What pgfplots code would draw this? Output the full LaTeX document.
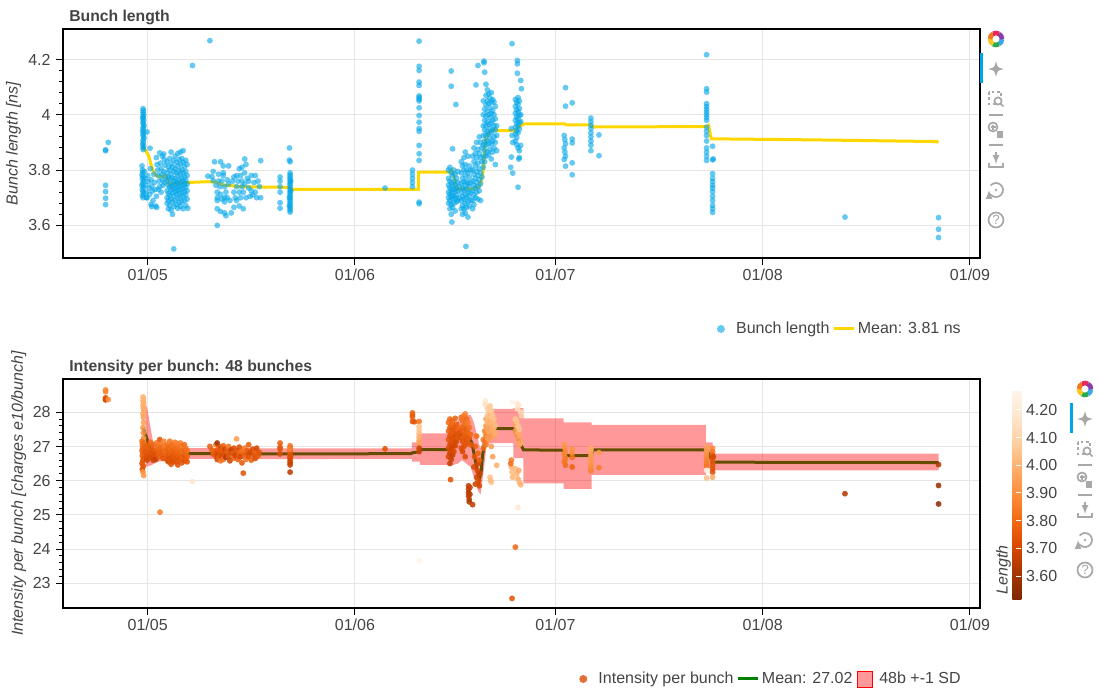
\documentclass[border=0pt]{standalone}
\usepackage{fontspec}
\setmainfont{Liberation Sans}
\usepackage{pgfplots}
\pgfplotsset{compat=1.18}
\definecolor{txt}{HTML}{444444}
\definecolor{gridc}{HTML}{E5E5E5}
\definecolor{blue1}{RGB}{0,165,232}
\definecolor{gold1}{HTML}{FFD700}
\definecolor{green1}{HTML}{008000}
\definecolor{orleg}{RGB}{226,112,55}
\definecolor{icon}{HTML}{A8A8A8}
\newcommand\fs{\fontsize{12bp}{14bp}\selectfont}
\newcommand\fst{\fontsize{11.8bp}{14bp}\selectfont}
\pgfplotsset{
 bk/.style={
  scale only axis, width=687.75bp, height=171.75bp,
  xmin=-12.67, xmax=124.5,
  xtick={0,31,61,92,123}, xticklabels={01/05,01/06,01/07,01/08,01/09},
  grid=major, major grid style={gridc, line width=0.75bp},
  axis line style={black, line width=1bp},
  tick align=outside, tick pos=left,
  major tick length=5bp, minor tick length=3bp,
  every tick/.style={black, line width=0.75bp},
  /pgf/number format/assume math mode=true,
  ticklabel style={font=\fs, text=txt},
  xticklabel style={yshift=0bp},
  yticklabel style={xshift=-0.8bp},
  label style={font=\fs\itshape, text=txt},
  every axis title/.style={font=\fst\bfseries, text=txt, at={(axis description cs:0,1)}, anchor=base west, yshift=5.8bp, xshift=1.2bp},
  legend style={draw=none, fill=none, font=\fs, text=txt, legend columns=-1,
     /tikz/every even column/.append style={column sep=0bp}},
  legend cell align=left,
  legend image code/.code={\draw[mark repeat=2,mark phase=2,#1] plot coordinates {(0bp,0bp) (7.5bp,0bp) (15bp,0bp)};},
  dotlegend/.style={legend image code/.code={\path[draw=none,fill=none] (0bp,0bp) -- (15bp,0bp); \draw[##1] plot coordinates {(5.6bp,0bp)};}},
 }
}
\newcommand\toolbar[2]{%
 \begin{scope}[shift={(#1,#2)}]
  \foreach \a/\c in {0/{rgb,255:red,60;green,170;blue,230},60/{rgb,255:red,40;green,170;blue,80},120/{rgb,255:red,250;green,200;blue,30},180/{rgb,255:red,245;green,120;blue,30},240/{rgb,255:red,230;green,40;blue,90},300/{rgb,255:red,140;green,60;blue,170}}
   {\draw[line width=3.5, color=\c] (\a:6) arc[start angle=\a, end angle=\a+62, radius=6];}
  \begin{scope}[shift={(0,30)}, icon, line width=1.3]
   \draw[-latex] (0,0)--(0,-8); \draw[-latex] (0,0)--(0,8);
   \draw[-latex] (0,0)--(-8,0); \draw[-latex] (0,0)--(8,0);
  \end{scope}
  \begin{scope}[shift={(0,60)}, icon, line width=1.3]
   \draw[dash pattern=on 2 off 2] (-7,-7) rectangle (5,5);
   \draw[fill=white] (2,2) circle (3.6); \draw (4.5,4.5)--(7.5,7.5);
  \end{scope}
  \draw[icon, line width=0.8] (-7,76)--(7,76);
  \begin{scope}[shift={(0,91)}, icon, line width=1.3]
   \draw (-3,-3) circle (4.5); \draw (-5.5,-3)--(-0.5,-3); \draw (-3,-5.5)--(-3,-0.5);
   \fill (1,1) rectangle (7,8);
  \end{scope}
  \draw[icon, line width=0.8] (-7,106)--(7,106);
  \begin{scope}[shift={(0,121)}, icon, line width=1.3]
   \draw (-7,3)--(-7,7)--(7,7)--(7,3);
   \draw[-latex] (0,-8)--(0,4);
  \end{scope}
  \begin{scope}[shift={(0,151)}, icon, line width=1.3]
   \draw[-latex] (-140:7) arc[start angle=-140, end angle=180, radius=7];
   \fill (0,0) circle (1.3);
  \end{scope}
  \begin{scope}[shift={(0,181)}, icon, line width=1.3]
   \draw (0,0) circle (7.5);
   \node[text=icon, font=\fontsize{10bp}{11bp}\selectfont, inner sep=0] at (0,0.3) {?};
  \end{scope}
 \end{scope}}
\begin{document}
\begin{tikzpicture}
\useasboundingbox (0bp,0bp) rectangle (825bp,-525bp);
% ---------------- top: bunch length
\begin{axis}[bk, at={(47.25bp,-193.5bp)}, anchor=south west,
  ymin=3.482, ymax=4.31, ytick={3.6,3.8,4,4.2}, minor y tick num=4,
  title={Bunch length}, ylabel={Bunch length [ns]},
  y label style={at={(axis description cs:-0.054,0.5)}, anchor=center},
  legend style={at={(axis description cs:0.9865,-0.31)}, anchor=east},
]
\addplot[only marks, mark=*, mark size=2.2bp, blue1, mark options={draw=blue1, fill=blue1, draw opacity=0, fill opacity=0.6}, forget plot] coordinates {
(-6.3,3.870) (-6.3,3.873) (-6.3,3.745) (-6.3,3.722) (-6.3,3.698) (-6.3,3.675) (-5.9,3.900)
(-0.7,4.022) (-0.65,4.015) (-0.7,4.008) (-0.6,4.001) (-0.7,3.995) (-0.65,3.990) (-0.75,3.985) (-0.6,3.980)
(-0.7,3.972) (-0.65,3.966) (-0.55,3.960) (-0.7,3.953) (-0.65,3.947) (-0.75,3.940) (-0.6,3.934) (-0.7,3.928)
(-0.65,3.921) (-0.55,3.915) (-0.7,3.908) (-0.65,3.900) (-0.75,3.893) (-0.6,3.887) (-0.7,3.880) (-0.65,3.874)
(-0.1,3.938) (0.35,3.879)
(-0.85,3.815) (-0.8,3.800) (-0.75,3.790) (-0.85,3.782) (-0.7,3.775) (-0.8,3.768) (-0.6,3.760) (-0.75,3.752)
(-0.85,3.745) (-0.65,3.738) (-0.8,3.730) (-0.7,3.722) (-0.6,3.715) (-0.8,3.708) (-0.7,3.700) (-0.5,3.795)
(-0.4,3.770) (-0.3,3.745) (-0.2,3.720) (-0.1,3.700) (0.0,3.780) (0.1,3.758) (0.2,3.735) (0.3,3.712)
(0.4,3.805) (0.5,3.765) (0.6,3.742) (0.7,3.724) (0.8,3.690) (0.9,3.785) (1.0,3.755) (1.1,3.730)
(1.2,3.670) (1.35,3.665) (0.5,3.676) (0.6,3.668) (-0.2,3.700)
(1.3,3.845) (1.4,3.820) (1.5,3.800) (1.6,3.780) (1.7,3.760) (1.8,3.740) (1.9,3.825) (2.0,3.805)
(2.1,3.785) (2.2,3.765) (2.3,3.745) (2.4,3.858) (2.5,3.838) (2.6,3.818) (2.2,3.850) (1.8,3.862)
(1.6,3.730) (2.0,3.720) (2.4,3.795) (2.6,3.775) (1.3,3.705) (2.5,3.755)
(2.9,3.830) (2.9,3.790) (2.9,3.760) (2.9,3.725) (2.9,3.700) (2.9,3.680)
(3.1,3.810) (3.1,3.775) (3.1,3.745) (3.1,3.715) (3.1,3.690) (3.1,3.660)
(3.3,3.842) (3.3,3.800) (3.3,3.768) (3.3,3.738) (3.3,3.708) (3.3,3.672)
(3.5,3.865) (3.5,3.822) (3.5,3.785) (3.5,3.752) (3.5,3.728) (3.5,3.695) (3.5,3.655)
(3.7,3.812) (3.7,3.772) (3.7,3.742) (3.7,3.718) (3.7,3.685) (3.7,3.640)
(3.9,3.835) (3.9,3.795) (3.9,3.760) (3.9,3.733) (3.9,3.705) (3.9,3.668) (3.9,3.515)
(4.1,3.850) (4.1,3.805) (4.1,3.770) (4.1,3.748) (4.1,3.722) (4.1,3.690)
(4.3,3.828) (4.3,3.790) (4.3,3.758) (4.3,3.735) (4.3,3.712) (4.3,3.675)
(4.5,3.860) (4.5,3.815) (4.5,3.780) (4.5,3.750) (4.5,3.728) (4.5,3.698) (4.5,3.662)
(4.7,3.838) (4.7,3.798) (4.7,3.765) (4.7,3.740) (4.7,3.715) (4.7,3.682)
(4.9,3.865) (4.9,3.822) (4.9,3.785) (4.9,3.755) (4.9,3.730) (4.9,3.700) (4.9,3.668)
(5.1,3.842) (5.1,3.802) (5.1,3.770) (5.1,3.745) (5.1,3.718) (5.1,3.685)
(5.3,3.870) (5.3,3.828) (5.3,3.790) (5.3,3.760) (5.3,3.735) (5.3,3.705) (5.3,3.660)
(5.5,3.812) (5.5,3.775) (5.5,3.748) (5.5,3.722) (5.5,3.690)
(5.7,3.835) (5.7,3.795) (5.7,3.762) (5.7,3.738) (5.7,3.710) (5.7,3.672)
(5.9,3.820) (5.9,3.780) (5.9,3.750) (5.9,3.725) (5.9,3.695) (6.0,3.662)
(6.7,4.178) (9.3,4.268)
(9.0,3.778) (9.6,3.776) (9.8,3.795) (9.8,3.762) (10.0,3.830) (10.2,3.745) (10.4,3.720) (10.4,3.700)
(10.4,3.690) (10.4,3.660) (10.4,3.600) (10.6,3.785) (10.6,3.760) (10.8,3.740) (10.9,3.830) (10.9,3.712)
(10.9,3.650) (11.1,3.695) (11.1,3.760) (11.3,3.790) (11.3,3.815) (11.3,3.780) (11.5,3.740) (11.5,3.700)
(11.5,3.685) (11.5,3.645) (11.7,3.635) (11.7,3.720) (11.9,3.765) (11.9,3.700) (12.1,3.815) (12.1,3.750)
(12.3,3.690) (12.5,3.645) (12.7,3.760) (12.9,3.775) (12.9,3.720) (12.9,3.665) (13.1,3.700) (13.3,3.780)
(13.3,3.740) (13.3,3.690) (13.5,3.760) (13.7,3.805) (13.7,3.720) (13.7,3.670) (13.9,3.780) (13.9,3.700)
(14.1,3.810) (14.1,3.760) (14.1,3.740) (14.3,3.660) (14.3,3.720) (14.5,3.840) (14.5,3.790) (14.5,3.750)
(14.7,3.820) (14.7,3.700) (14.9,3.770) (15.1,3.760) (15.1,3.735) (15.3,3.705) (15.5,3.780) (15.5,3.725)
(15.7,3.710) (15.9,3.755) (16.1,3.780) (16.1,3.720) (16.3,3.700) (16.5,3.760) (16.7,3.740) (16.9,3.834)
(16.9,3.700)
(19.8,3.775) (19.8,3.760) (19.8,3.740) (19.8,3.720) (19.8,3.682) (19.8,3.662)
(21.2,3.880) (21.2,3.836) (21.3,3.830) (21.3,3.790) (21.3,3.782) (21.3,3.775) (21.3,3.768) (21.3,3.760)
(21.3,3.752) (21.3,3.745) (21.3,3.738) (21.3,3.730) (21.3,3.722) (21.3,3.715) (21.3,3.708) (21.3,3.700)
(21.3,3.692) (21.3,3.685) (21.3,3.678) (21.3,3.670) (21.3,3.662) (21.3,3.655) (21.3,3.648) (21.4,3.725)
(21.4,3.760) (21.2,3.700) (21.2,3.670)
(35.5,3.735)
(39.6,3.800) (39.6,3.785) (39.6,3.770) (39.6,3.755) (39.6,3.740)
(40.6,4.266) (40.6,4.175) (40.6,4.160) (40.6,4.118) (40.6,4.106) (40.6,4.068) (40.6,4.062) (40.6,4.056)
(40.6,4.050) (40.6,4.025) (40.6,3.997) (40.6,3.973) (40.6,3.950) (40.6,3.940) (40.6,3.889) (40.6,3.859)
(40.6,3.835) (40.6,3.684) (40.6,3.678)
(45.0,3.800) (45.0,3.770) (45.0,3.745) (45.0,3.720) (45.0,3.700) (45.0,3.680)
(45.2,3.810) (45.2,3.760) (45.2,3.735) (45.2,3.712) (45.2,3.690) (45.2,3.660)
(45.4,3.790) (45.4,3.752) (45.4,3.728) (45.4,3.705) (45.4,3.675) (45.4,3.640) (45.4,4.158) (45.4,4.103)
(45.6,3.877) (45.6,3.780) (45.6,3.742) (45.6,3.718) (45.6,3.695) (45.6,3.665) (45.5,3.612)
(45.8,3.800) (45.8,3.760) (45.8,3.730) (45.8,3.705) (45.8,3.680)
(46.0,3.785) (46.0,3.748) (46.0,3.722) (46.0,3.698) (46.0,3.652) (46.1,4.037)
(46.2,3.770) (46.2,3.735) (46.2,3.708) (46.2,3.685) (46.4,3.795) (46.4,3.755) (46.4,3.725) (46.4,3.690)
(46.6,3.740) (46.6,3.700)
(46.9,3.830) (46.9,3.790) (46.9,3.752) (46.9,3.720) (46.9,3.690) (46.9,3.660)
(47.1,3.815) (47.1,3.770) (47.1,3.735) (47.1,3.705) (47.1,3.672) (47.1,3.640)
(47.3,3.845) (47.3,3.800) (47.3,3.758) (47.3,3.728) (47.3,3.695) (47.3,3.660)
(47.5,3.865) (47.5,3.820) (47.5,3.780) (47.5,3.745) (47.5,3.712) (47.5,3.680) (47.5,3.645) (47.6,3.524)
(47.7,3.800) (47.7,3.760) (47.7,3.730) (47.7,3.700) (47.7,3.665)
(47.9,3.850) (47.9,3.790) (47.9,3.750) (47.9,3.718) (47.9,3.685) (47.9,3.630)
(48.1,3.815) (48.1,3.775) (48.1,3.740) (48.1,3.705) (48.1,3.670)
(48.3,3.800) (48.3,3.755) (48.3,3.720) (48.3,3.690)
(48.6,3.850) (48.6,3.800) (48.6,3.760) (48.6,3.725) (48.6,3.690) (48.6,3.660)
(48.8,3.880) (48.8,3.830) (48.8,3.785) (48.8,3.745) (48.8,3.710) (48.8,3.675)
(49.0,3.860) (49.0,3.815) (49.0,3.770) (49.0,3.735) (49.0,3.700) (49.1,4.108)
(49.2,3.900) (49.2,3.845) (49.2,3.795) (49.2,3.755) (49.2,3.720) (49.4,4.178)
(49.4,3.875) (49.4,3.825) (49.4,3.780) (49.4,3.740) (49.4,3.695)
(49.6,3.920) (49.6,3.860) (49.6,3.805) (49.6,3.765) (49.6,3.725)
(49.8,3.900) (49.8,3.845) (49.8,3.790) (49.8,3.750) (49.8,3.690)
(50.0,3.880) (50.0,3.830) (50.0,3.775)
(50.2,4.050) (50.2,4.000) (50.2,3.960) (50.2,3.925) (50.2,3.890) (50.2,3.850) (50.2,3.810)
(50.3,4.194) (50.3,4.188) (50.4,4.154) (50.4,4.020) (50.4,3.980) (50.4,3.945) (50.4,3.905) (50.4,3.870) (50.4,3.830)
(50.6,4.110) (50.6,4.070) (50.6,4.035) (50.6,3.995) (50.6,3.960) (50.6,3.925) (50.6,3.890) (50.6,3.850)
(50.8,4.090) (50.8,4.050) (50.8,4.012) (50.8,3.975) (50.8,3.940) (50.8,3.905) (50.8,3.865)
(51.0,4.075) (51.0,4.040) (51.0,4.000) (51.0,3.965) (51.0,3.930) (51.0,3.895) (51.0,3.855)
(51.2,4.060) (51.2,4.025) (51.2,3.990) (51.2,3.950) (51.2,3.915) (51.2,3.875)
(51.4,4.080) (51.4,4.045) (51.4,4.005) (51.4,3.970) (51.4,3.935) (51.4,3.895) (51.4,3.840)
(51.6,4.055) (51.6,4.015) (51.6,3.980) (51.6,3.945) (51.6,3.905) (51.6,3.865)
(51.8,4.046) (51.8,4.000) (51.8,3.960) (51.8,3.920) (51.8,3.880)
(52.0,4.030) (52.0,3.985) (52.0,3.945) (52.0,3.900) (52.0,3.820)
(52.2,3.960) (52.2,3.925) (52.2,3.870)
(54.5,4.257) (55.3,4.196) (55.3,4.184) (55.3,4.150) (55.8,4.124) (55.9,4.094)
(55.0,4.055) (55.0,4.030) (55.0,4.005) (55.0,3.980) (55.0,3.955) (55.0,3.930) (55.0,3.905)
(55.2,4.045) (55.2,4.018) (55.2,3.992) (55.2,3.968) (55.2,3.942) (55.2,3.918) (55.2,3.892)
(55.4,4.062) (55.4,4.038) (55.4,4.010) (55.4,3.985) (55.4,3.960) (55.4,3.935) (55.4,3.880)
(55.6,4.050) (55.6,4.022) (55.6,3.998) (55.6,3.972) (55.6,3.948) (55.6,3.870)
(55.8,4.000) (55.8,3.975) (55.8,3.889)
(54.4,3.950) (54.5,3.925) (54.6,3.900) (54.4,3.847) (54.3,3.810) (54.6,3.789) (55.4,3.738) (55.5,3.840) (55.6,3.845)
(62.5,4.098) (62.5,4.031) (63.5,4.043) (62.3,3.925) (62.4,3.910) (62.5,3.895) (62.3,3.880) (62.4,3.865)
(62.5,3.850) (62.3,3.838) (62.5,3.814) (63.5,3.912) (63.5,3.898) (63.5,3.826) (63.5,3.783)
(66.3,3.988) (66.3,3.975) (66.3,3.962) (66.3,3.950) (66.3,3.935) (66.3,3.920) (66.3,3.905) (66.3,3.890)
(66.3,3.870) (67.5,3.927) (67.5,3.852)
(83.6,4.217) (83.6,4.094) (83.6,4.082) (83.6,4.040) (83.6,4.030) (83.6,4.020) (83.6,4.010) (83.6,4.000)
(83.6,3.990) (83.6,3.980) (83.6,3.955) (83.6,3.940) (83.6,3.925) (83.6,3.905) (83.6,3.880) (83.6,3.865)
(83.6,3.850) (83.6,3.835)
(84.5,3.886) (84.5,3.837) (84.6,3.840) (84.5,3.787) (84.5,3.770) (84.5,3.758) (84.5,3.745) (84.5,3.735)
(84.5,3.722) (84.5,3.705) (84.5,3.690) (84.5,3.672) (84.5,3.660) (84.5,3.647)
(104.3,3.630) (118.3,3.628) (118.3,3.586) (118.3,3.556)
};
\addplot[gold1, line width=2.25bp, forget plot] coordinates {
(-0.65,3.886) (-0.3,3.87) (0.0,3.858) (0.2,3.847) (0.5,3.82) (0.94,3.79) (1.3,3.78) (1.8,3.775)
(2.3,3.778) (2.7,3.78) (3.0,3.765) (3.1,3.75) (4.0,3.751) (6.0,3.755) (9.0,3.758) (10.0,3.757)
(10.8,3.75) (11.6,3.745) (12.8,3.743) (13.5,3.74) (16.0,3.739) (20.0,3.738) (21.2,3.737) (21.6,3.73)
(40.5,3.73) (40.5,3.792) (45.3,3.793) (45.5,3.80) (45.8,3.78) (46.1,3.732) (46.5,3.73) (47.2,3.734)
(48.0,3.731) (49.0,3.735) (49.6,3.74) (49.9,3.76) (50.2,3.80) (50.4,3.87) (50.6,3.919) (51.2,3.94)
(51.95,3.946) (52.5,3.943) (54.9,3.942) (55.5,3.955) (56.3,3.967) (62.4,3.967) (62.6,3.963) (66.4,3.963)
(66.5,3.956) (83.6,3.957) (83.9,3.961) (84.1,3.935) (84.3,3.913) (100,3.909) (118.0,3.903) (118.3,3.900)
};
\addlegendimage{dotlegend, only marks, mark=*, mark size=3bp, blue1, mark options={draw=blue1, fill=blue1, draw opacity=0, fill opacity=0.6}}
\addlegendentry{Bunch length}
\addlegendimage{gold1, line width=2.25bp}
\addlegendentry{Mean: 3.81 ns}
\end{axis}
% ---------------- bottom: intensity
\begin{axis}[bk, at={(47.25bp,-456bp)}, anchor=south west,
  ymin=22.28, ymax=28.97, ytick={23,24,25,26,27,28}, minor y tick num=4,
  title={Intensity per bunch: 48 bunches}, ylabel={Intensity per bunch [charges e10/bunch]},
  y label style={at={(axis description cs:-0.0482,0.5)}, anchor=center},
  legend style={at={(axis description cs:0.9865,-0.31)}, anchor=east},
  colormap={ors}{rgb255=(127,39,4) rgb255=(166,54,3) rgb255=(217,72,1) rgb255=(241,105,19) rgb255=(253,141,60) rgb255=(253,174,107) rgb255=(253,208,162) rgb255=(254,230,206) rgb255=(255,245,235)},
  point meta min=3.517, point meta max=4.272,
  colorbar,
  colorbar style={
    at={(parent axis.north east)}, anchor=north west, xshift=15.75bp, yshift=-8.25bp,
    scale only axis, width=6.75bp, height=156.75bp,
    grid=none, xtick=\empty,
    ytick={3.6,3.7,3.8,3.9,4.0,4.1,4.2},
    /pgf/number format/assume math mode=true,
    yticklabel style={font=\fs, text=txt, /pgf/number format/.cd, fixed, fixed zerofill, precision=2},
    axis line style={draw=none},
    major tick length=3.75bp, tick align=inside, ytick pos=right, yticklabel pos=right,
    every tick/.style={white, line width=0.75bp},
    ylabel={Length},
    every axis y label/.style={at={(axis description cs:0,0)}, xshift=-3.6bp, rotate=90, anchor=base west, font=\fs\itshape, text=txt},
  },
]
\addplot[scatter, only marks, mark=*, mark size=2.2bp, point meta=explicit,
  scatter/use mapped color={draw=mapped color, fill=mapped color, draw opacity=0, fill opacity=0.88}, forget plot] coordinates {
(-6.3,28.65) [3.87] (-6.3,28.60) [3.87] (-6.3,28.42) [3.745] (-6.3,28.38) [3.72] (-6.3,28.36) [3.70] (-5.9,28.37) [3.90]
(-0.7,28.45) [4.02] (-0.65,28.40) [4.01] (-0.7,28.33) [4.00] (-0.6,28.27) [3.995] (-0.7,28.20) [3.99] (-0.65,28.12) [3.98]
(-0.55,28.05) [3.97] (-0.7,27.95) [3.96] (-0.65,27.85) [3.95] (-0.6,27.70) [3.94] (-0.7,27.55) [3.92] (-0.65,27.40) [3.90] (-0.6,27.25) [3.89]
(-0.85,27.15) [3.815] (-0.8,27.05) [3.80] (-0.75,26.95) [3.79] (-0.85,26.88) [3.782] (-0.7,26.80) [3.775] (-0.8,26.72) [3.768]
(-0.6,26.65) [3.76] (-0.75,26.58) [3.752] (-0.85,26.50) [3.745] (-0.65,26.42) [3.738] (-0.8,26.33) [3.73] (-0.7,26.25) [3.90]
(-0.6,26.15) [3.92] (-0.5,27.10) [3.795] (-0.4,26.98) [3.77] (-0.3,26.85) [3.745] (-0.2,26.70) [3.72] (-0.1,26.60) [3.70]
(0.0,27.00) [3.78] (0.1,26.90) [3.758] (0.2,26.78) [3.735] (0.3,26.68) [3.712] (0.4,27.12) [3.805] (0.5,26.95) [3.765]
(0.6,26.82) [3.742] (0.7,26.70) [3.724] (0.8,26.60) [3.69] (0.9,27.05) [3.785] (1.0,26.88) [3.755] (1.1,26.75) [3.73] (1.2,26.62) [3.67]
(1.3,27.10) [3.845] (1.4,27.00) [3.82] (1.5,26.90) [3.80] (1.6,26.80) [3.78] (1.7,26.70) [3.76] (1.8,27.20) [3.74]
(1.9,27.05) [3.825] (2.0,26.95) [3.805] (2.1,26.85) [3.785] (2.2,26.75) [3.765] (2.3,26.65) [3.745] (2.4,27.15) [3.858]
(2.5,27.00) [3.838] (2.6,26.88) [3.818] (1.84,25.08) [3.85]
(2.9,27.05) [3.83] (2.9,26.90) [3.79] (2.9,26.75) [3.76] (2.9,26.60) [3.725] (3.1,27.00) [3.81] (3.1,26.85) [3.775]
(3.1,26.70) [3.745] (3.1,26.55) [3.715] (3.3,27.15) [3.842] (3.3,26.95) [3.80] (3.3,26.80) [3.768] (3.3,26.65) [3.738]
(3.5,27.10) [3.865] (3.5,26.92) [3.822] (3.5,26.78) [3.785] (3.5,26.62) [3.752] (3.5,26.48) [3.728] (3.7,27.05) [3.812]
(3.7,26.88) [3.772] (3.7,26.72) [3.742] (3.7,26.58) [3.718] (3.9,27.00) [3.835] (3.9,26.85) [3.795] (3.9,26.70) [3.76]
(3.9,26.55) [3.733] (4.1,27.12) [3.85] (4.1,26.95) [3.805] (4.1,26.80) [3.77] (4.1,26.65) [3.748] (4.3,27.02) [3.828]
(4.3,26.88) [3.79] (4.3,26.72) [3.758] (4.3,26.55) [3.735] (4.5,27.08) [3.86] (4.5,26.92) [3.815] (4.5,26.78) [3.78]
(4.5,26.62) [3.75] (4.5,26.46) [3.728] (4.7,27.00) [3.838] (4.7,26.85) [3.798] (4.7,26.68) [3.765] (4.9,27.10) [3.865]
(4.9,26.95) [3.822] (4.9,26.80) [3.785] (4.9,26.62) [3.755] (5.1,27.02) [3.842] (5.1,26.86) [3.802] (5.1,26.70) [3.77]
(5.1,26.52) [3.745] (5.3,26.98) [3.87] (5.3,26.82) [3.828] (5.3,26.66) [3.79] (5.5,27.05) [3.812] (5.5,26.90) [3.775]
(5.5,26.74) [3.748] (5.5,26.58) [3.722] (5.7,26.95) [3.835] (5.7,26.80) [3.795] (5.7,26.62) [3.762] (5.9,26.88) [3.82]
(5.9,26.72) [3.78] (5.9,26.55) [3.75] (6.7,25.97) [4.178]
(9.3,27.00) [3.778] (9.6,26.90) [3.776] (9.8,26.85) [3.795] (9.8,26.78) [3.762] (10.2,27.05) [3.83] (10.2,26.72) [3.745]
(10.4,27.10) [3.60] (10.4,26.88) [3.72] (10.4,26.75) [3.70] (10.4,26.62) [3.69] (10.6,26.95) [3.785] (10.6,26.68) [3.76]
(10.8,26.82) [3.74] (10.9,26.58) [3.83] (10.9,26.98) [3.712] (11.1,26.70) [3.695] (11.1,26.88) [3.76] (11.3,27.02) [3.79]
(11.3,26.62) [3.815] (11.5,26.78) [3.74] (11.5,26.92) [3.70] (11.7,26.68) [3.635] (11.9,26.85) [3.765] (12.1,27.00) [3.815]
(12.1,26.72) [3.75] (12.3,26.58) [3.69] (12.5,26.90) [3.645] (12.7,26.80) [3.76] (12.9,26.66) [3.775] (12.9,26.95) [3.72]
(13.1,26.74) [3.70] (13.3,27.22) [3.94] (13.3,26.88) [3.74] (13.5,26.62) [3.76] (13.7,26.78) [3.805] (13.7,26.98) [3.72]
(13.9,26.70) [3.70] (14.1,26.86) [3.81] (14.1,26.52) [3.76] (14.3,26.22) [3.74] (14.5,26.95) [3.84] (14.5,26.75) [3.79]
(14.7,26.62) [3.82] (14.9,26.88) [3.77] (15.1,27.05) [3.76] (15.1,26.70) [3.735] (15.3,26.82) [3.705] (15.5,26.60) [3.78]
(15.7,26.92) [3.71] (15.9,26.75) [3.755] (16.1,26.85) [3.78] (16.1,26.65) [3.72] (16.3,26.95) [3.70] (16.5,26.72) [3.76]
(16.7,26.82) [3.74]
(19.8,27.10) [3.775] (19.8,26.98) [3.76] (19.8,26.92) [3.74] (19.8,26.78) [3.72]
(21.3,27.02) [3.83] (21.3,26.95) [3.79] (21.3,26.88) [3.775] (21.3,26.82) [3.76] (21.3,26.76) [3.745] (21.3,26.70) [3.73]
(21.3,26.65) [3.715] (21.3,26.58) [3.70] (21.3,26.52) [3.685] (21.3,26.46) [3.67] (21.3,26.25) [3.655] (21.2,26.92) [3.88] (21.4,26.72) [3.725]
(35.5,26.93) [3.735]
(39.6,27.98) [3.80] (39.6,27.92) [3.785] (39.6,27.87) [3.77] (39.6,27.73) [3.755] (39.9,27.72) [3.74]
(40.6,27.73) [3.835] (40.6,27.58) [4.05] (40.6,27.48) [4.06] (40.6,27.38) [4.025] (40.6,27.28) [3.997] (40.6,27.18) [3.973]
(40.6,27.10) [3.95] (40.6,23.67) [4.266] (40.6,26.95) [3.684] (40.6,26.85) [3.678]
(45.0,27.70) [3.80] (45.0,27.45) [3.77] (45.0,27.20) [3.745] (45.0,26.95) [3.72] (45.0,26.70) [3.70] (45.2,27.80) [3.81]
(45.2,27.55) [3.76] (45.2,27.30) [3.735] (45.2,27.05) [3.712] (45.2,26.80) [3.69] (45.2,26.50) [3.66] (45.3,26.03) [3.75]
(45.4,27.62) [3.79] (45.4,27.38) [3.752] (45.4,27.12) [3.728] (45.4,26.88) [3.705] (45.4,26.62) [3.675] (45.6,27.75) [3.78]
(45.6,27.50) [3.742] (45.6,27.25) [3.718] (45.6,27.00) [3.695] (45.6,26.75) [3.665] (45.8,27.60) [3.80] (45.8,27.35) [3.76]
(45.8,27.10) [3.73] (45.8,26.85) [3.705] (46.0,27.82) [3.785] (46.0,27.55) [3.748] (46.0,27.30) [3.722] (46.0,27.02) [3.698]
(46.2,27.65) [3.77] (46.2,27.40) [3.735] (46.2,27.15) [3.708] (46.4,27.50) [3.795] (46.4,27.25) [3.755] (46.6,27.40) [3.74]
(46.9,27.85) [3.83] (46.9,27.55) [3.79] (46.9,27.25) [3.752] (46.9,26.95) [3.72] (47.1,27.75) [3.815] (47.1,27.45) [3.77]
(47.1,27.15) [3.735] (47.1,26.85) [3.705] (47.3,27.90) [3.845] (47.3,27.60) [3.80] (47.3,27.30) [3.758] (47.3,27.00) [3.728]
(47.5,27.95) [3.865] (47.5,27.65) [3.82] (47.5,27.35) [3.78] (47.5,27.05) [3.745] (47.5,26.70) [3.712] (47.7,27.80) [3.80]
(47.7,27.50) [3.76] (47.7,27.20) [3.73] (47.9,27.70) [3.85] (47.9,27.40) [3.79] (47.9,27.10) [3.75] (48.1,27.55) [3.815]
(48.1,27.25) [3.775] (48.3,27.35) [3.80] (48.3,27.05) [3.755]
(48.0,25.85) [3.66] (48.0,25.75) [3.65] (48.0,25.65) [3.645] (48.0,25.55) [3.64] (48.1,25.45) [3.655] (48.1,25.38) [3.63]
(48.2,25.80) [3.67] (48.2,25.60) [3.65] (48.6,25.30) [3.66] (49.0,25.90) [3.69] (49.2,26.10) [3.70] (49.3,26.30) [3.72]
(49.4,26.50) [3.695] (49.5,26.00) [3.725] (49.6,25.85) [3.705] (49.7,26.20) [3.69] (48.8,26.40) [3.71] (48.9,26.70) [3.745]
(49.0,27.00) [3.77] (49.2,27.30) [3.80] (49.4,26.80) [3.78] (49.6,26.60) [3.76]
(50.2,27.20) [3.85] (50.2,26.95) [3.81] (50.4,27.45) [3.87] (50.4,27.15) [3.83] (50.5,28.33) [4.194] (50.5,28.22) [4.154]
(50.6,27.80) [3.96] (50.6,27.60) [3.925] (50.6,27.35) [3.89] (50.6,27.05) [3.85] (50.8,28.10) [4.09] (50.8,27.90) [4.05]
(50.8,27.70) [4.012] (50.8,27.50) [3.975] (50.8,27.25) [3.94] (51.0,28.00) [4.075] (51.0,27.82) [4.04] (51.0,27.62) [4.00]
(51.0,27.42) [3.965] (51.0,27.20) [3.93] (51.2,28.18) [4.06] (51.2,27.95) [4.025] (51.2,27.75) [3.99] (51.2,27.55) [3.95]
(51.2,27.30) [3.915] (51.4,28.05) [4.08] (51.4,27.85) [4.045] (51.4,27.65) [4.005] (51.4,27.45) [3.97] (51.4,27.00) [3.935]
(51.6,27.92) [4.055] (51.6,27.72) [4.015] (51.6,27.50) [3.98] (51.6,26.70) [3.945] (51.8,27.80) [4.046] (51.8,27.55) [4.00]
(51.8,27.30) [3.96] (52.0,27.62) [4.03] (52.0,27.40) [3.985] (52.2,26.45) [4.0] (51.2,26.10) [4.05] (51.4,25.95) [4.06] (51.3,26.00) [4.03]
(54.5,28.30) [4.257] (55.3,28.25) [4.196] (55.5,28.20) [4.184] (55.3,28.10) [4.15] (55.8,28.00) [4.124] (55.9,27.90) [4.094]
(55.0,27.80) [4.055] (55.0,27.65) [3.955] (55.0,27.45) [3.93] (55.2,27.72) [4.045] (55.2,27.55) [3.942] (55.2,27.35) [3.918]
(55.4,27.60) [4.062] (55.4,27.40) [3.985] (55.4,27.20) [3.935] (55.6,27.50) [4.05] (55.6,27.30) [3.972] (55.6,27.05) [3.948]
(55.8,27.10) [3.975] (54.4,26.40) [4.00] (54.5,26.25) [4.03] (54.6,26.10) [4.01] (55.0,26.35) [4.02] (55.2,26.20) [4.005]
(55.4,26.05) [3.99] (55.6,25.95) [4.01] (55.5,26.30) [3.98] (55.8,25.88) [4.0] (55.4,25.22) [4.2] (55.0,24.06) [3.80]
(54.5,22.56) [3.75] (54.4,26.60) [3.847] (54.3,26.50) [3.81]
(62.3,27.05) [3.925] (62.4,26.95) [3.91] (62.5,26.85) [3.895] (62.3,26.78) [3.88] (62.4,26.70) [3.865] (62.5,26.62) [3.85]
(62.3,26.55) [3.838] (62.5,26.45) [3.814] (63.5,26.92) [3.912] (63.5,26.80) [3.898] (63.5,26.68) [3.826] (63.5,26.40) [3.783]
(66.3,26.95) [3.988] (66.3,26.88) [3.975] (66.3,26.80) [3.962] (66.3,26.72) [3.95] (66.3,26.65) [3.935] (66.3,26.55) [3.92]
(66.3,26.45) [3.905] (66.3,26.35) [3.89] (66.3,26.28) [3.87] (67.5,26.82) [3.927] (67.5,26.38) [3.852]
(83.6,26.98) [3.955] (83.6,26.90) [3.94] (83.6,26.82) [3.925] (83.6,26.74) [3.905] (83.6,26.66) [3.88] (83.6,26.58) [3.865]
(83.6,26.50) [3.85] (83.6,26.42) [3.835] (83.6,26.08) [4.04] (83.6,26.30) [4.217]
(84.5,26.95) [3.886] (84.5,26.85) [3.837] (84.5,26.75) [3.787] (84.5,26.65) [3.77] (84.5,26.55) [3.758] (84.5,26.45) [3.745]
(84.5,26.35) [3.735] (84.5,26.25) [3.722] (84.5,26.10) [3.98] (84.6,26.70) [3.70]
(104.3,25.62) [3.63] (118.3,26.47) [3.628] (118.3,25.86) [3.586] (118.3,25.32) [3.556]
};
\addplot[green1, line width=2.25bp, forget plot] coordinates {
(-0.65,27.54) (-0.4,27.36) (-0.15,27.25) (0.2,27.0) (0.6,26.87) (0.9,26.80) (1.3,26.84) (1.8,26.88)
(2.8,26.9) (3.3,26.92) (3.7,26.85) (4.5,26.81) (6.0,26.79) (21.5,26.78) (39.4,26.79) (39.7,26.82)
(40.5,26.84) (40.7,26.91) (45.2,26.91) (45.7,27.05) (46.7,27.34) (47.9,27.34) (48.5,27.1) (48.9,26.7)
(49.3,26.3) (49.6,26.03) (49.9,26.3) (50.1,26.75) (50.5,27.2) (50.8,27.58) (51.2,27.67) (51.6,27.62)
(52.2,27.52) (54.7,27.52) (55.2,27.36) (55.7,27.1) (56.2,26.9) (62.2,26.89) (62.5,26.73) (66.4,26.73)
(66.6,26.9) (83.6,26.9) (84.0,26.75) (84.5,26.54) (118.3,26.53)
};
\addplot[fill=red, fill opacity=0.4, draw=none, forget plot] coordinates {
(-0.3,28.27) (0.0,28.05) (0.35,27.63) (0.6,27.35) (0.85,27.1) (1.2,27.02) (1.6,27.0) (2.5,27.0)
(3.2,27.05) (3.8,27.0) (4.5,26.96) (6.0,26.95) (21.5,26.94) (39.5,26.94) (39.5,27.12) (40.7,27.12)
(40.7,27.38) (45.2,27.38) (45.6,27.5) (46.4,27.75) (46.7,27.9) (48.3,27.92) (48.8,27.7) (49.4,27.2)
(49.8,26.9) (50.2,27.3) (50.7,27.9) (51.2,28.1) (54.7,28.1) (54.7,28.12) (56.2,28.12) (56.2,27.82)
(62.2,27.82) (62.2,27.7) (66.4,27.7) (66.4,27.63) (83.5,27.63) (83.5,27.12) (84.5,27.12) (84.5,26.79)
(118.3,26.79)
(118.3,26.30) (84.5,26.30) (84.5,26.37) (83.5,26.37) (83.5,26.17) (66.4,26.17) (66.4,25.76) (62.2,25.76)
(62.2,25.92) (56.2,25.92) (56.2,26.66) (54.7,26.66) (54.7,27.1) (51.2,27.1) (50.7,27.05) (50.2,26.2)
(49.8,25.6) (49.4,25.7) (48.8,26.1) (48.3,26.4) (47.0,26.6) (46.4,26.5) (45.6,26.45) (45.2,26.46)
(40.7,26.46) (40.7,26.56) (39.5,26.56) (39.5,26.64) (21.5,26.63) (6.0,26.64) (4.5,26.62) (3.0,26.6)
(1.5,26.55) (1.0,26.5) (0.5,26.45) (0.0,26.42) (-0.3,26.42)
} -- cycle;
\addlegendimage{dotlegend, only marks, mark=*, mark size=3bp, orleg, mark options={draw=orleg, fill=orleg, draw opacity=0}}
\addlegendentry{Intensity per bunch}
\addlegendimage{green1, line width=2.25bp}
\addlegendentry{Mean: 27.02}
\addlegendimage{legend image code/.code={\path[draw=none,fill=none] (-1.5bp,0bp) -- (14.7bp,0bp); \fill[red, fill opacity=0.4] (0bp,-5.85bp) rectangle (11.7bp,5.85bp);}}
\addlegendentry{48b +-1 SD}
\end{axis}
% ---------------- toolbars (decoration)
\begin{scope}[x=0.75bp, y=-0.75bp]
 \toolbar{996}{39}
 \toolbar{1085}{389}
 \fill[blue1] (980,53) rectangle (982.5,83);
 \fill[blue1] (1070,403) rectangle (1072.5,433);
\end{scope}
\end{tikzpicture}
\end{document}
